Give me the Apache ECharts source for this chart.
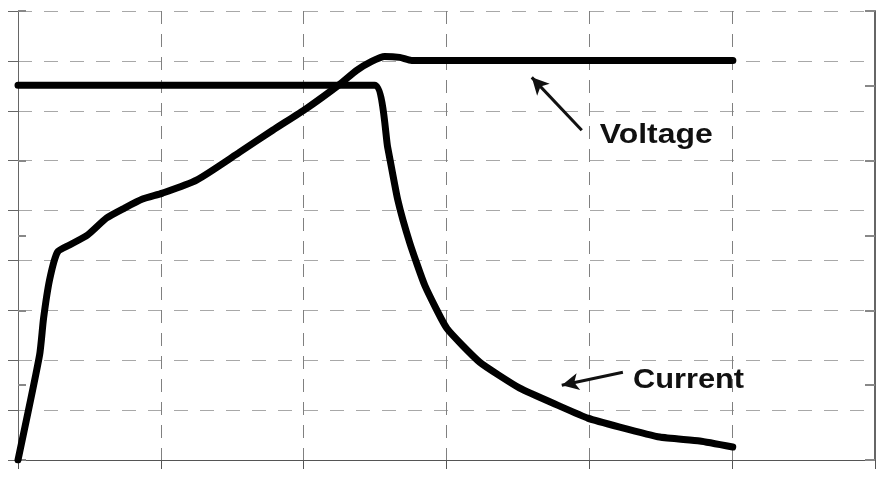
<!DOCTYPE html>
<html>
<head>
<meta charset="utf-8">
<script src="https://cdn.jsdelivr.net/npm/echarts@6/dist/echarts.min.js"></script>
<style>
html,body{margin:0;padding:0;background:#fff;}
#c{width:893px;height:479px;}
</style>
</head>
<body>
<div id="c"></div>
<script>
// Data (x in grid units 0..6, y in left-axis units 0..9)
const voltageX = [0, 0.151, 0.179, 0.221, 0.277, 0.361, 0.487, 0.62, 0.746, 0.872, 1.012, 1.25, 1.552, 1.783, 2.021, 2.252, 2.371, 2.476, 2.567, 2.672, 2.756, 5.005];
const voltageY = [0, 2.10, 2.84, 3.61, 4.17, 4.31, 4.51, 4.85, 5.05, 5.23, 5.35, 5.61, 6.17, 6.61, 7.05, 7.53, 7.81, 7.99, 8.09, 8.07, 8.01, 8.01];
const currentX = [0, 2.497, 2.588, 2.659, 2.743, 2.848, 3.002, 3.233, 3.513, 3.793, 3.989, 4.213, 4.493, 4.773, 5.004];
const currentY = [7.51, 7.51, 6.27, 5.21, 4.35, 3.50, 2.64, 1.96, 1.44, 1.08, 0.84, 0.66, 0.46, 0.38, 0.26];
const voltageLabel = 'Voltage';
const currentLabel = 'Current';
const voltageArrow = [[3.947, 6.61], [3.597, 7.67]];
const currentArrow = [[4.235, 1.76], [3.807, 1.50]];
const voltageLabelPos = [4.073, 6.35];
const currentLabelPos = [4.305, 1.44];

const zip = (xs, ys) => xs.map((x, i) => [x, ys[i]]);

const chart = echarts.init(document.getElementById('c'), null, {renderer: 'canvas'});
const lineStyle = {color: '#000', width: 7, cap: 'round', join: 'round'};
const arrowMark = (seg) => ({
  silent: true,
  symbol: ['none', 'arrow'],
  symbolSize: [13, 17],
  label: {show: false},
  lineStyle: {color: '#111', width: 3, type: 'solid'},
  data: [[{coord: seg[0]}, {coord: seg[1]}]],
  animation: false
});

chart.setOption({
  animation: false,
  backgroundColor: '#fff',
  grid: {left: 18, right: 18, top: 11, bottom: 19},
  xAxis: {
    type: 'value', min: 0, max: 6, interval: 1,
    axisLine: {show: true, onZero: false, lineStyle: {color: '#555', width: 1}},
    axisTick: {show: true, inside: false, length: 9, lineStyle: {color: '#555'}},
    axisLabel: {show: false},
    splitLine: {show: true, lineStyle: {color: '#808080', width: 1, type: [13, 10]}}
  },
  yAxis: [
    {
      type: 'value', min: 0, max: 9, interval: 1, position: 'left',
      axisLine: {show: true, onZero: false, lineStyle: {color: '#666', width: 1}},
      axisTick: {show: true, inside: false, length: 10, lineStyle: {color: '#666'}},
      axisLabel: {show: false},
      splitLine: {show: true, lineStyle: {color: '#a8a8a8', width: 1.2, type: [14, 12]}}
    },
    {
      type: 'value', min: 0, max: 6, interval: 1, position: 'right',
      axisLine: {show: true, onZero: false, lineStyle: {color: '#666', width: 2}},
      axisTick: {show: true, inside: true, length: 10, lineStyle: {color: '#888', width: 2}},
      axisLabel: {show: false},
      splitLine: {show: false}
    },
    {
      type: 'value', min: 0, max: 6, interval: 1, position: 'right',
      axisLine: {show: false},
      axisTick: {show: true, inside: false, length: 8, lineStyle: {color: '#888', width: 2}},
      axisLabel: {show: false},
      splitLine: {show: false}
    }
  ],
  series: [
    {
      name: voltageLabel, type: 'line', yAxisIndex: 0,
      data: zip(voltageX, voltageY), showSymbol: false, smooth: 0.2,
      lineStyle: lineStyle, markLine: arrowMark(voltageArrow)
    },
    {
      name: currentLabel, type: 'line', yAxisIndex: 0,
      data: zip(currentX, currentY), showSymbol: false, smooth: 0.15,
      lineStyle: lineStyle, markLine: arrowMark(currentArrow)
    }
  ]
});

const vp = chart.convertToPixel({gridIndex: 0}, voltageLabelPos);
const cp = chart.convertToPixel({gridIndex: 0}, currentLabelPos);
const textStyle = (t) => ({text: t, fill: '#111', font: 'bold 28px "Liberation Sans", Arial, sans-serif', textVerticalAlign: 'bottom', textAlign: 'left'});
chart.setOption({
  graphic: [
    {type: 'text', x: vp[0], y: vp[1] + 6, scaleX: 1.14, style: textStyle(voltageLabel), silent: true},
    {type: 'text', x: cp[0], y: cp[1] + 6, scaleX: 1.1, style: textStyle(currentLabel), silent: true}
  ]
});
</script>
</body>
</html>
